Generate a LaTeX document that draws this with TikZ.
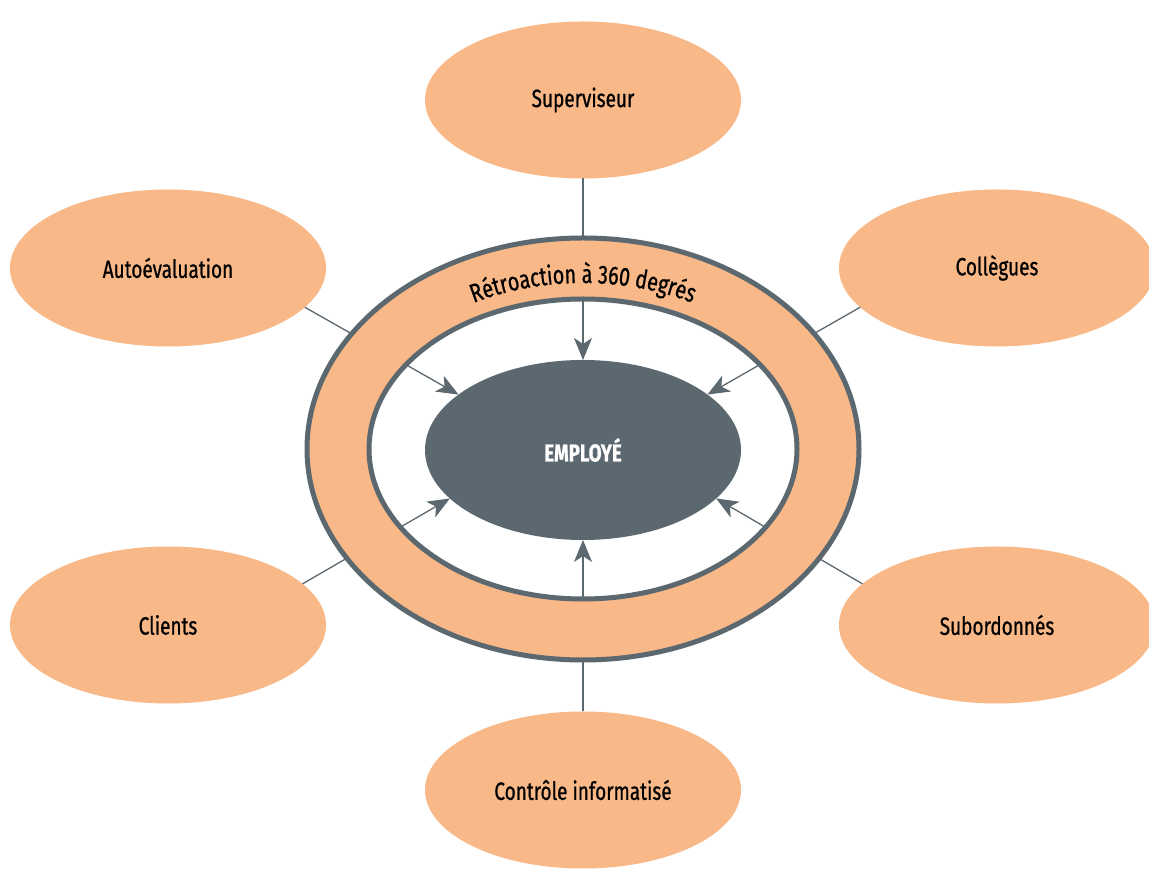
\documentclass[tikz,border=0pt]{standalone}
\usepackage{fontspec}
\setmainfont{Fira Sans}[FakeStretch=0.76, FakeBold=0.8]
\usetikzlibrary{shapes.geometric, arrows.meta, decorations.text}
\definecolor{peach}{HTML}{F9B887}
\definecolor{slate}{HTML}{5C6870}
\begin{document}
\begin{tikzpicture}[x=1pt,y=1pt,
  src/.style={ellipse, fill=peach, minimum width=316pt, minimum height=157pt, inner sep=0pt, outer sep=0pt,
    font=\fontsize{25}{28}\selectfont, text=black},
  hub/.style={ellipse, fill=slate, minimum width=316pt, minimum height=180pt, inner sep=0pt, outer sep=0pt,
    font=\fontsize{24.5}{28}\selectfont\bfseries, text=white},
  conn/.style={draw=slate, line width=1.3pt, -{Stealth[length=22pt,width=18pt,inset=6pt]}},
  ringline/.style={draw=slate, line width=5pt}]
\useasboundingbox (0,0) rectangle (1149,878);
\clip (0,0) rectangle (1149,878);
\fill[white] (0,0) rectangle (1149,878);

\node[hub] (emp) at (583,428) {EMPLOYÉ};
\node[src] (sup) at (583,778) {Superviseur};
\node[src] (auto) at (168,610) {Autoévaluation};
\node[src] (coll) at (997,610) {Collègues};
\node[src] (cli) at (168,253) {Clients};
\node[src] (sub) at (997,253) {Subordonnés};
\node[src] (ctrl) at (583,88) {Contrôle informatisé};

\draw[conn] (sup.south) -- (emp.north);
\draw[conn] (ctrl.north) -- (emp.south);
\draw[conn] (auto.-16) -- (emp.156);
\draw[conn] (coll.196) -- (emp.24);
\draw[conn] (cli.17) -- (emp.200);
\draw[conn] (sub.163) -- (emp.-20);

% ring
\fill[peach, even odd rule] (583,429) ellipse[x radius=276, y radius=211]
  (583,429) ellipse[x radius=214, y radius=150];
\draw[ringline] (583,429) ellipse[x radius=276, y radius=211];
\draw[ringline] (583,429) ellipse[x radius=214, y radius=150];

\path[decorate, decoration={text along path, text align=center,
  text={|\fontsize{26}{28}\selectfont|Rétroaction à 360 degrés}}]
  (583,429) ++(160:230 and 166) arc[start angle=160, end angle=20, x radius=230, y radius=166];
\end{tikzpicture}
\end{document}
